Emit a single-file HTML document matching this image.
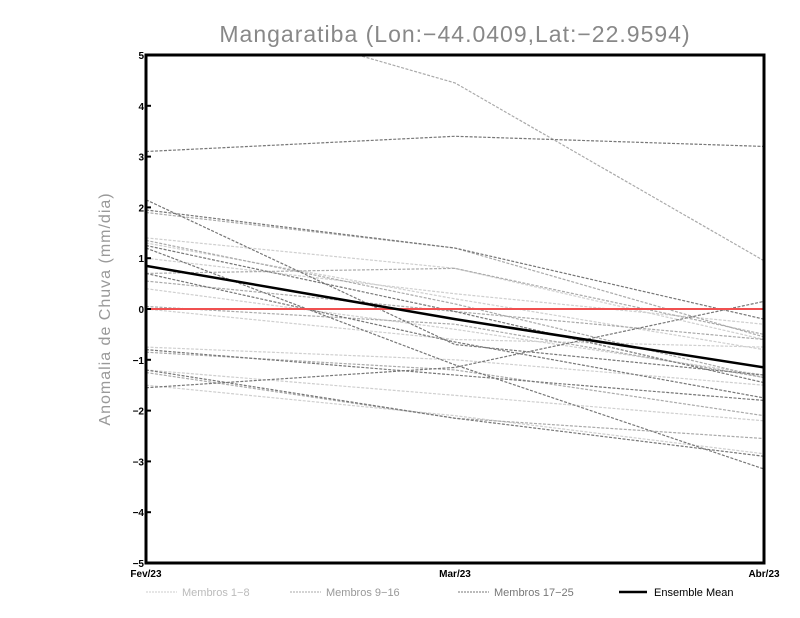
<!DOCTYPE html>
<html><head><meta charset="utf-8"><style>
body{margin:0;background:#fff;}
svg{display:block;font-family:"Liberation Sans",sans-serif;}
</style></head><body>
<svg id="c" width="800" height="618" xmlns="http://www.w3.org/2000/svg">
<text x="455" y="42" text-anchor="middle" font-size="23" fill="#888" letter-spacing="1">Mangaratiba (Lon:−44.0409,Lat:−22.9594)</text>
<text transform="translate(110,309) rotate(-90)" text-anchor="middle" font-size="16" fill="#999" letter-spacing="1">Anomalia de Chuva (mm/dia)</text>
<g id="marks"></g>
<g id="axes"></g>
<g>
<line x1="146" y1="592" x2="177" y2="592" stroke="#ccc" stroke-dasharray="2,1"/>
<text x="182" y="596" font-size="11" fill="#bbb">Membros 1−8</text>
<line x1="290" y1="592" x2="321" y2="592" stroke="#aaa" stroke-dasharray="2,1"/>
<text x="326" y="596" font-size="11" fill="#999">Membros 9−16</text>
<line x1="458" y1="592" x2="489" y2="592" stroke="#777" stroke-dasharray="2,1"/>
<text x="494" y="596" font-size="11" fill="#777">Membros 17−25</text>
<line x1="619" y1="592" x2="647" y2="592" stroke="#000" stroke-width="2.5"/>
<text x="654" y="596" font-size="11" fill="#000">Ensemble Mean</text>
</g>
</svg>
<script>
const categories=["Fev/23","Mar/23","Abr/23"];
const yTicks=[-5,-4,-3,-2,-1,0,1,2,3,4,5];
const members1to8=[[1.4,0.8,-0.6],[1.3,0.2,-0.8],[0.4,-0.4,-1.3],[0.0,-0.6,-0.75],[-0.75,-1.0,-1.5],[-1.2,-1.7,-2.2],[-1.5,-2.1,-2.85],[1.0,0.3,-0.3]];
const members9to16=[[6.2,4.45,0.95],[0.7,0.8,-0.5],[1.9,1.2,-0.55],[0.05,-0.3,-1.35],[-0.85,-1.2,-2.1],[-1.25,-2.15,-2.55],[0.55,-0.05,-0.6],[1.35,0.1,-1.35]];
const members17to25=[[3.1,3.4,3.2],[2.15,-0.7,-1.3],[1.95,1.2,-0.2],[1.25,-0.05,-1.45],[0.7,-0.65,-1.75],[-0.8,-1.3,-1.8],[-1.55,-1.15,0.15],[-1.2,-2.15,-2.9],[1.2,-1.1,-3.15]];
const ensembleMean=[0.85,-0.2,-1.15];
const NS="http://www.w3.org/2000/svg";
const L=146,R=764,T=55,B=563;
const xs=i=>L+(R-L)*i/(categories.length-1);
const ys=v=>B-(v+5)*(B-T)/10;
const marks=document.getElementById('marks'),axes=document.getElementById('axes');
const clip=document.createElementNS(NS,'clipPath');clip.id='cp';
const cr=document.createElementNS(NS,'rect');cr.setAttribute('x',L);cr.setAttribute('y',T);cr.setAttribute('width',R-L);cr.setAttribute('height',B-T);
clip.appendChild(cr);document.getElementById('c').appendChild(clip);
marks.setAttribute('clip-path','url(#cp)');
function line(vals,color,w,dash,name){
 const p=document.createElementNS(NS,'polyline');
 p.setAttribute('points',vals.map((v,i)=>xs(i)+','+ys(v)).join(' '));
 p.setAttribute('fill','none');p.setAttribute('stroke',color);p.setAttribute('stroke-width',w);
 if(dash)p.setAttribute('stroke-dasharray',dash);
 
 
 marks.appendChild(p);
}
members1to8.forEach((m,i)=>line(m,'#cfcfcf',1.2,'3,1.5','member-'+(i+1)+'-line'));
members9to16.forEach((m,i)=>line(m,'#aaa',1.2,'3,1.5','member-'+(i+9)+'-line'));
members17to25.forEach((m,i)=>line(m,'#777',1.2,'3,1.5','member-'+(i+17)+'-line'));
const z=document.createElementNS(NS,'line');
z.setAttribute('x1',L);z.setAttribute('x2',R);z.setAttribute('y1',ys(0));z.setAttribute('y2',ys(0));z.setAttribute('stroke','#f05050');z.setAttribute('stroke-width',2);


marks.appendChild(z);
line(ensembleMean,'#000',2.5,null,'ensemble-mean-line');
const fr=document.createElementNS(NS,'rect');
fr.setAttribute('x',L);fr.setAttribute('y',T);fr.setAttribute('width',R-L);fr.setAttribute('height',B-T);fr.setAttribute('fill','none');fr.setAttribute('stroke','#000');fr.setAttribute('stroke-width',3);


axes.appendChild(fr);
yTicks.forEach(v=>{
 const t=document.createElementNS(NS,'line');
 t.setAttribute('x1',L);t.setAttribute('x2',L+5);t.setAttribute('y1',ys(v));t.setAttribute('y2',ys(v));t.setAttribute('stroke','#000');t.setAttribute('stroke-width',2);
 
 
 axes.appendChild(t);
 const tx=document.createElementNS(NS,'text');
 tx.setAttribute('x',L-2);tx.setAttribute('y',ys(v)+4);tx.setAttribute('text-anchor','end');tx.setAttribute('font-size','10');tx.setAttribute('font-weight','bold');
 tx.textContent=v<0?'−'+(-v):String(v);
 
 
 axes.appendChild(tx);
});
categories.forEach((c,i)=>{
 const tx=document.createElementNS(NS,'text');
 tx.setAttribute('x',xs(i));tx.setAttribute('y',577);tx.setAttribute('text-anchor','middle');tx.setAttribute('font-size','10');tx.setAttribute('font-weight','bold');
 tx.textContent=c;
 
 
 axes.appendChild(tx);
});
</script>
</body></html>
